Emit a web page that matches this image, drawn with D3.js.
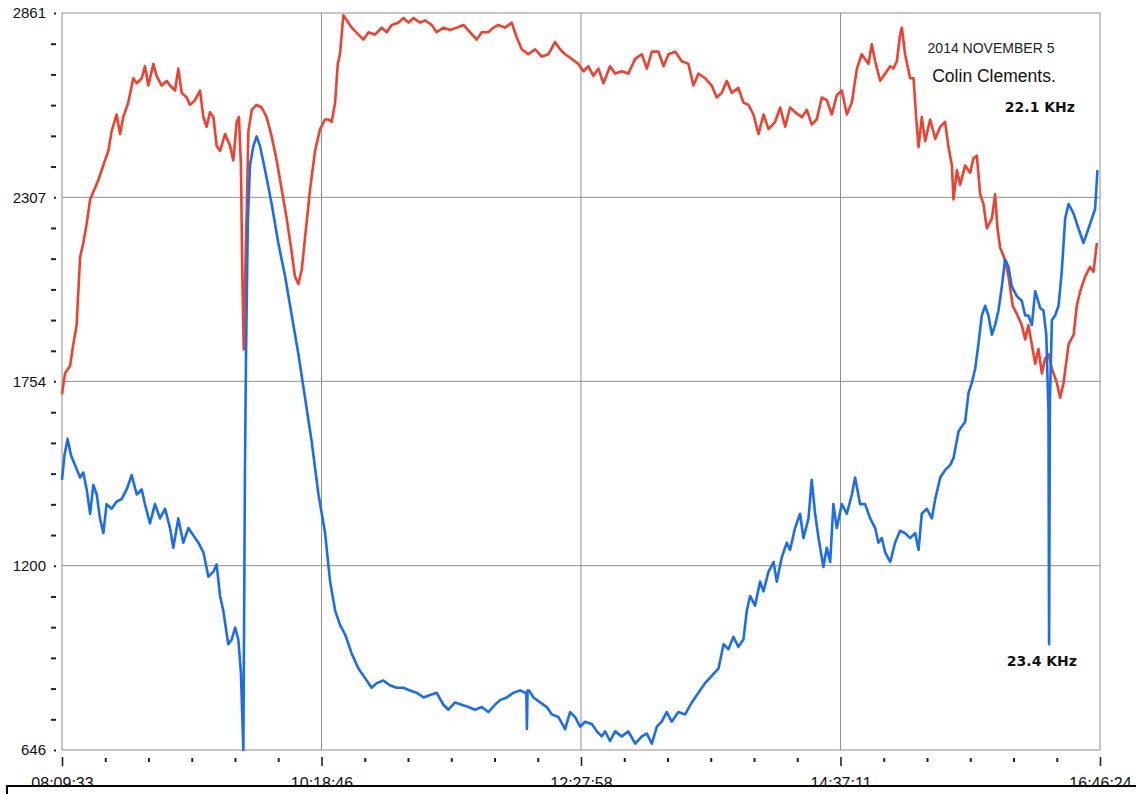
<!DOCTYPE html>
<html>
<head>
<meta charset="utf-8">
<script src="https://cdn.jsdelivr.net/npm/d3@7"></script>
<style>
  body { margin: 0; background: #fff; }
  svg { display: block; }
</style>
</head>
<body>
<svg id="chart"></svg>
<script>
const width = 1136;
const height = 794;
const margin = { left: 62, right: 36, top: 13, bottom: 44 };

// tick labels
const xTickLabels = ["08:09:33", "10:18:46", "12:27:58", "14:37:11", "16:46:24"];
const yTickValues = [2861, 2307, 1754, 1200, 646];

// [minutes after 08:09:33, value]
const red22 = [
  [0,1715],[1.5,1778],[4.0,1800],[5.6,1865],[7.3,1923],[9.0,2127],[10.6,2170],[12.3,2228],[14.0,2301],[15.6,2323],
  [18.1,2359],[21.4,2418],[23.1,2447],[24.7,2505],[27.2,2556],[28.9,2497],[30.5,2548],[33.0,2592],[35.5,2665],[37.2,2650],
  [39.7,2665],[41.3,2701],[43.0,2643],[45.5,2708],[47.1,2672],[49.6,2643],[52.1,2657],[53.8,2643],[56.3,2628],[57.9,2694],
  [59.6,2621],[62.1,2607],[63.7,2585],[66.2,2599],[68.7,2628],[70.4,2548],[72.0,2519],[73.7,2563],[75.4,2548],[77.0,2461],
  [78.7,2447],[81.2,2497],[83.7,2461],[85.3,2418],[87.0,2534],[88.1,2548],[89.1,2403],[89.8,2069],[90.5,1850],[91.1,2040],
  [92.0,2272],[92.8,2505],[94.5,2570],[96.9,2585],[99.4,2577],[101.9,2548],[104.4,2490],[106.9,2418],[109.4,2330],[111.9,2243],
  [114.4,2141],[116.0,2069],[117.7,2047],[119.4,2090],[121.0,2185],[123.5,2330],[126.0,2447],[128.5,2512],[131.0,2541],
  [132.6,2541],[134.3,2534],[136.0,2592],[137.3,2708],[138.4,2737],[140.1,2854],[141.8,2839],[144.3,2817],[147.6,2796],[150.1,2781],
  [152.6,2803],[155.9,2796],[159.2,2817],[161.7,2803],[164.2,2825],[167.5,2832],[170.0,2846],[172.5,2832],[175.0,2846],[178.3,2832],
  [180.8,2839],[184.1,2825],[186.6,2803],[189.9,2817],[193.2,2810],[196.6,2817],[199.9,2825],[203.2,2803],[206.5,2781],[209.0,2803],
  [212.3,2803],[214.8,2817],[217.3,2825],[220.6,2817],[223.9,2832],[226.4,2788],[228.9,2752],[232.2,2737],[235.6,2752],[238.9,2730],
  [242.2,2737],[245.5,2774],[248.0,2752],[250.5,2737],[253.8,2723],[257.1,2708],[259.6,2686],[262.1,2701],[264.6,2672],[267.1,2694],
  [269.6,2650],[272.9,2701],[275.4,2679],[278.7,2686],[282.0,2679],[285.4,2723],[288.7,2737],[291.2,2694],[293.7,2745],[297.0,2745],
  [299.5,2701],[302.0,2737],[305.3,2745],[308.6,2716],[311.9,2708],[314.4,2643],[316.9,2679],[320.2,2665],[323.5,2643],[326.0,2607],
  [328.5,2621],[331.0,2657],[333.5,2621],[336.8,2636],[339.3,2592],[341.8,2585],[344.3,2556],[346.8,2497],[349.3,2556],[351.8,2512],
  [355.1,2534],[357.6,2577],[360.1,2519],[362.5,2577],[365.0,2563],[368.4,2548],[370.9,2570],[373.3,2526],[375.8,2541],[378.3,2607],
  [380.8,2599],[383.3,2556],[385.8,2614],[388.3,2628],[390.8,2556],[393.3,2592],[395.8,2694],[398.2,2737],[401.6,2708],[403.2,2767],
  [404.9,2716],[407.4,2657],[409.9,2679],[412.4,2701],[414.0,2694],[415.7,2716],[417.3,2796],[418.2,2817],[419.8,2737],[422.3,2665],
  [424.0,2665],[425.3,2548],[426.5,2458],[428.1,2548],[429.8,2476],[432.3,2541],[434.8,2483],[437.3,2519],[439.7,2534],[441.4,2458],
  [443.1,2403],[443.9,2301],[445.6,2389],[447.2,2345],[449.7,2403],[452.2,2381],[453.9,2425],[455.5,2432],[457.2,2316],[458.8,2287],
  [460.5,2214],[463.0,2243],[464.6,2316],[465.8,2214],[467.1,2156],[469.1,2127],[471.3,2069],[473.4,1981],[475.8,1952],[477.9,1923],
  [479.6,1880],[481.2,1923],[482.9,1865],[484.6,1807],[486.2,1851],[487.9,1778],[489.5,1822],[491.2,1836],[492.9,1792],[495.4,1749],
  [497.0,1705],[498.7,1749],[501.2,1865],[503.7,1894],[505.3,1981],[507.0,2025],[509.5,2069],[511.9,2098],[513.6,2083],[515.3,2170]
];

const blue23 = [
  [0,1458],[1.2,1531],[2.8,1581],[4.5,1531],[6.5,1502],[9.0,1465],[10.6,1480],[12.3,1429],[14.0,1356],[15.6,1443],
  [17.3,1414],[18.9,1342],[20.6,1298],[22.2,1385],[24.7,1371],[27.2,1393],[29.7,1400],[32.2,1429],[34.7,1472],[37.2,1414],
  [39.7,1429],[41.3,1385],[43.8,1327],[46.3,1385],[48.8,1342],[51.3,1371],[53.8,1313],[55.4,1254],[57.9,1342],[60.4,1269],
  [62.9,1313],[65.4,1291],[67.9,1269],[70.4,1240],[72.9,1167],[75.4,1182],[77.0,1204],[78.7,1109],[80.3,1065],[82.8,964],
  [84.5,978],[86.2,1014],[87.8,978],[89.1,876],[90.3,646],[91.1,1487],[91.6,1821],[92.5,2228],[93.6,2403],[95.3,2461],
  [96.9,2490],[98.6,2461],[101.1,2389],[104.4,2287],[107.7,2170],[111.1,2069],[114.4,1952],[117.7,1836],[121.0,1705],[124.3,1574],
  [127.7,1414],[131.0,1298],[133.5,1152],[136.0,1065],[138.4,1022],[141.0,993],[144.3,935],[147.6,891],[150.9,862],[154.2,833],
  [156.7,847],[160.0,855],[163.4,840],[166.7,833],[170.0,833],[173.3,825],[176.6,818],[180.0,804],[183.3,811],[186.6,818],
  [189.9,782],[192.4,767],[195.7,789],[199.0,782],[202.4,775],[205.7,767],[209.0,775],[212.3,760],[215.6,782],[218.1,796],
  [221.5,804],[224.8,818],[228.1,825],[230.6,818],[231.2,818],[231.5,709],[231.8,825],[232.6,825],[234.7,804],[238.1,789],
  [241.4,775],[243.9,753],[247.2,745],[250.5,709],[253.0,760],[255.5,745],[258.0,716],[260.5,731],[263.8,724],[266.3,702],
  [268.8,687],[270.4,702],[272.9,673],[275.4,702],[278.7,687],[282.0,702],[285.4,665],[288.7,687],[291.2,695],[293.7,665],
  [296.2,716],[298.6,731],[301.1,760],[303.6,731],[306.9,760],[310.3,753],[313.6,789],[316.9,818],[320.2,847],[323.5,869],
  [326.9,891],[329.4,964],[331.8,949],[334.3,986],[336.8,956],[339.3,978],[341.0,1065],[342.6,1109],[345.1,1080],[347.6,1152],
  [349.3,1123],[351.8,1182],[354.3,1211],[355.9,1152],[358.4,1225],[360.9,1269],[362.5,1247],[365.0,1313],[367.5,1356],[369.2,1283],
  [371.7,1342],[373.3,1458],[375.0,1356],[376.7,1283],[379.1,1196],[380.8,1254],[382.5,1211],[384.1,1385],[385.8,1313],[388.3,1385],
  [390.8,1356],[393.3,1414],[394.9,1465],[397.4,1385],[399.9,1385],[402.4,1342],[404.9,1313],[406.5,1269],[408.2,1283],[409.9,1240],
  [412.4,1211],[414.8,1269],[417.3,1305],[419.8,1298],[422.3,1283],[424.8,1298],[426.5,1247],[428.1,1356],[430.6,1371],[433.1,1342],
  [434.8,1400],[437.3,1465],[439.7,1487],[442.2,1502],[443.9,1523],[446.4,1603],[448.0,1618],[449.7,1632],[451.4,1720],[453.0,1749],
  [454.7,1792],[456.3,1865],[458.0,1952],[459.7,1981],[461.3,1952],[463.0,1894],[464.6,1923],[466.3,1967],[468.0,2040],[469.6,2120],
  [471.3,2098],[472.9,2040],[475.4,2010],[477.9,1996],[479.6,1952],[481.2,1952],[482.9,1923],[484.6,2025],[487.1,1974],[488.7,1967],
  [490.1,1894],[491.2,1662],[491.5,964],[491.9,1691],[492.9,1938],[494.5,1952],[496.2,1981],[497.8,2083],[499.5,2243],[501.2,2287],
  [503.7,2258],[506.1,2214],[508.6,2170],[510.3,2199],[512.8,2243],[514.4,2272],[515.6,2389]
];

const notes = ["2014 NOVEMBER 5", "Colin Clements."];
const seriesLabels = ["22.1 KHz", "23.4 KHz"];

function clockToMin(s) {
    const p = s.split(':').map(Number);
    return p[0] * 60 + p[1] + p[2] / 60;
}
const t0 = clockToMin(xTickLabels[0]);
const xMajor = xTickLabels.map(s => clockToMin(s) - t0);
const total = xMajor[xMajor.length - 1];

const svg = d3.select('svg#chart').attr('width', width).attr('height', height)

const x = d3.scaleLinear().domain([0, total]).range([margin.left, width - margin.right])
const y = d3.scaleLinear().domain([646, 2861]).range([height - margin.bottom, margin.top])

const gridColor = '#8e8e8e'

// grid lines
svg.append('g').selectAll('line.h')
    .data(yTickValues.slice(1, -1))
    .join('line')
    .attr('x1', x(0)).attr('x2', x(total))
    .attr('y1', d => y(d)).attr('y2', d => y(d))
    .attr('stroke', gridColor).attr('stroke-width', 1)

svg.append('g').selectAll('line.v')
    .data(xMajor.slice(1, -1))
    .join('line')
    .attr('x1', d => x(d)).attr('x2', d => x(d))
    .attr('y1', y(2861)).attr('y2', y(646))
    .attr('stroke', gridColor).attr('stroke-width', 1)

// frame
svg.append('rect')
    .attr('x', x(0)).attr('y', y(2861))
    .attr('width', x(total) - x(0)).attr('height', y(646) - y(2861))
    .attr('fill', 'none').attr('stroke', gridColor).attr('stroke-width', 1)

// y axis: minor dashes and labelled dots
const yStep = (2861 - 646) / 24
const yMinor = d3.range(1, 24).filter(i => i % 6 !== 0).map(i => 646 + i * yStep)

svg.append('g')
    .attr('transform', 'translate(56,0)')
    .call(d3.axisLeft(y).tickValues(yMinor).tickSize(5).tickFormat(''))
    .call(g => g.select('.domain').remove())
    .call(g => g.selectAll('line').attr('stroke', '#222').attr('stroke-width', 2))

svg.append('g')
    .attr('transform', 'translate(56,0)')
    .call(d3.axisLeft(y).tickValues(yTickValues).tickSize(2).tickPadding(8).tickFormat(d3.format('d')))
    .call(g => g.select('.domain').remove())
    .call(g => g.selectAll('line').attr('stroke', '#222').attr('stroke-width', 2))
    .call(g => g.selectAll('text')
        .attr('font-family', 'Liberation Sans, Arial, sans-serif')
        .attr('font-size', 15).attr('fill', '#111'))

// x axis
const xMinor = d3.range(1, 24).filter(i => i % 6 !== 0).map(i => i * total / 24)

svg.append('g')
    .attr('transform', 'translate(0,758)')
    .call(d3.axisBottom(x).tickValues(xMinor).tickSize(4).tickFormat(''))
    .call(g => g.select('.domain').remove())
    .call(g => g.selectAll('line').attr('stroke', '#222').attr('stroke-width', 2))

svg.append('g')
    .attr('transform', 'translate(0,757)')
    .call(d3.axisBottom(x).tickValues(xMajor).tickSize(9).tickFormat((d, i) => xTickLabels[i]))
    .call(g => g.select('.domain').remove())
    .call(g => g.selectAll('line').attr('stroke', '#222').attr('stroke-width', 1.6))
    .call(g => g.selectAll('text')
        .attr('y', 21).attr('dy', '0.71em')
        .attr('font-family', 'Liberation Sans, Arial, sans-serif')
        .attr('font-size', 16).attr('fill', '#111'))

// traces
const line = d3.line().x(d => x(d[0])).y(d => y(d[1]))

svg.append('path')
    .datum(red22)
    .attr('d', line)
    .attr('fill', 'none')
    .attr('stroke', '#ee4130')
    .attr('stroke-width', 2.6)
    .attr('stroke-linejoin', 'round')

svg.append('path')
    .datum(blue23)
    .attr('d', line)
    .attr('fill', 'none')
    .attr('stroke', '#1c6de6')
    .attr('stroke-width', 2.6)
    .attr('stroke-linejoin', 'round')

// annotations
svg.append('text')
    .attr('x', 991).attr('y', 53)
    .attr('text-anchor', 'middle')
    .attr('font-family', 'Liberation Sans, Arial, sans-serif')
    .attr('font-size', 14).attr('fill', '#222')
    .text(notes[0])

svg.append('text')
    .attr('x', 994).attr('y', 82)
    .attr('text-anchor', 'middle')
    .attr('font-family', 'Liberation Sans, Arial, sans-serif')
    .attr('font-size', 17.5).attr('fill', '#111')
    .text(notes[1])

svg.append('text')
    .attr('x', 1075).attr('y', 112)
    .attr('text-anchor', 'end')
    .attr('font-family', 'DejaVu Sans, sans-serif')
    .attr('font-weight', 'bold')
    .attr('font-size', 14).attr('fill', '#111')
    .text(seriesLabels[0])

svg.append('text')
    .attr('x', 1077).attr('y', 666)
    .attr('text-anchor', 'end')
    .attr('font-family', 'DejaVu Sans, sans-serif')
    .attr('font-weight', 'bold')
    .attr('font-size', 14).attr('fill', '#111')
    .text(seriesLabels[1])

// the box along the bottom edge that covers the lower part of the time labels
svg.append('rect')
    .attr('x', 7).attr('y', 786)
    .attr('width', 1140).attr('height', 30)
    .attr('fill', '#fff')
    .attr('stroke', '#000')
    .attr('stroke-width', 2)
</script>
</body>
</html>
